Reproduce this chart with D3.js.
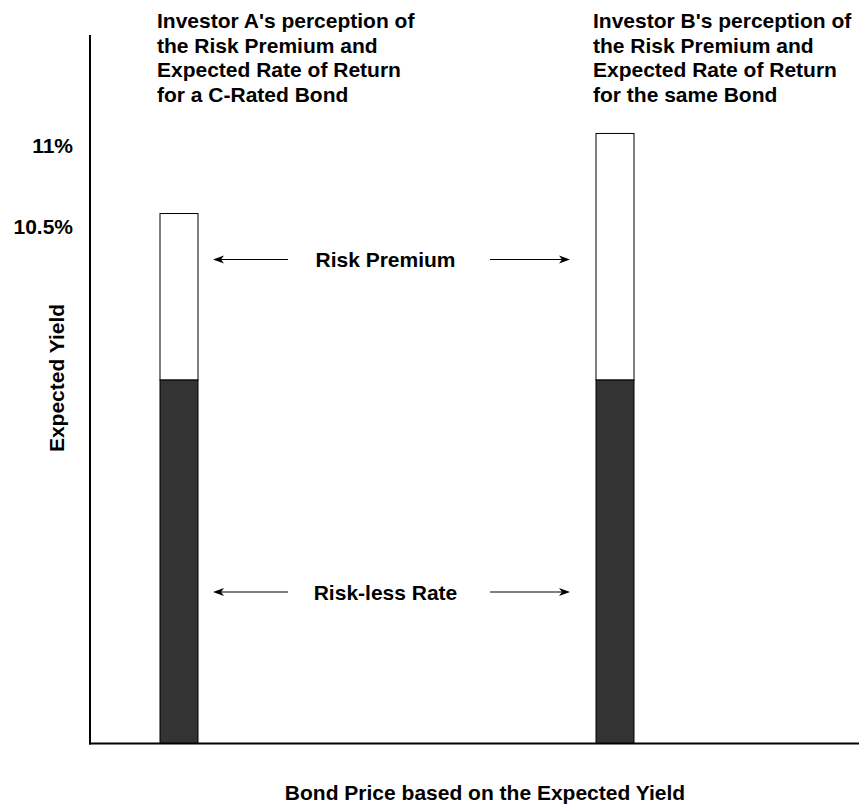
<!DOCTYPE html>
<html>
<head>
<meta charset="utf-8">
<script src="https://cdn.jsdelivr.net/npm/d3@7"></script>
<style>
  html, body { margin: 0; padding: 0; background: #fff; }
  svg text { font-family: "Liberation Sans", Arial, Helvetica, sans-serif; font-weight: bold; font-size: 21px; fill: #000; }
</style>
</head>
<body>
<svg id="chart" width="859" height="806"></svg>
<script>
// Two investors' view of the same bond: shared risk-less rate plus a risk premium
const investors = ["Investor A", "Investor B"];
const risklessRate = [9.46, 9.46];      // % yield, dark segment
const expectedYield = [10.5, 11];       // % yield, top of each bar
const tickValues = [10.5, 11];
const tickLabels = ["10.5%", "11%"];
const titles = [
  ["Investor A's perception of", "the Risk Premium and", "Expected Rate of Return", "for a C-Rated Bond"],
  ["Investor B's perception of", "the Risk Premium and", "Expected Rate of Return", "for the same Bond"]
];
const bandLabels = ["Risk Premium", "Risk-less Rate"];

const svg = d3.select("#chart");

const axisX = 90, axisBottom = 743.5, axisTop = 35, axisRight = 859;
const barWidth = 38;

const y = d3.scaleLinear().domain([7.19, 11.615]).range([axisBottom, axisTop]);
const x = d3.scalePoint().domain(investors).range([178.5, 614.5]);

// bars: dark risk-less part, white premium on top
const bars = svg.append("g");
investors.forEach((inv, i) => {
  const left = x(inv) - barWidth / 2;
  bars.append("rect")
    .attr("x", left + 0.5).attr("width", barWidth)
    .attr("y", y(expectedYield[i]))
    .attr("height", y(risklessRate[i]) - y(expectedYield[i]))
    .attr("fill", "#fff").attr("stroke", "#000").attr("stroke-width", 1);
  bars.append("rect")
    .attr("x", left + 0.5).attr("width", barWidth)
    .attr("y", y(risklessRate[i]))
    .attr("height", y.range()[0] - y(risklessRate[i]))
    .attr("fill", "#333").attr("stroke", "#000").attr("stroke-width", 1);
});

// axes
svg.append("line").attr("x1", axisX).attr("x2", axisX)
  .attr("y1", axisTop).attr("y2", axisBottom + 1)
  .attr("stroke", "#000").attr("stroke-width", 2);
svg.append("line").attr("x1", axisX - 1).attr("x2", axisRight)
  .attr("y1", axisBottom).attr("y2", axisBottom)
  .attr("stroke", "#000").attr("stroke-width", 2);

// yield labels
svg.append("g").selectAll("text").data(tickValues).join("text")
  .attr("x", 73).attr("y", d => y(d) + 20)
  .attr("text-anchor", "end")
  .text((d, i) => tickLabels[i]);

// titles above each bar
investors.forEach((inv, i) => {
  const t = svg.append("text").attr("x", x(inv) - barWidth / 2 - 2.5).attr("y", 28);
  titles[i].forEach((line, j) => {
    t.append("tspan").attr("x", x(inv) - barWidth / 2 - 2.5).attr("y", 28 + j * 24.5).text(line);
  });
});

// band annotations with arrows
const arrowRows = [259.5, 592];
const arrowGroup = svg.append("g");
function arrow(x1, x2, yy) {
  const dir = Math.sign(x2 - x1);
  arrowGroup.append("line")
    .attr("x1", x1).attr("x2", x2 - dir * 8)
    .attr("y1", yy).attr("y2", yy)
    .attr("stroke", "#000").attr("stroke-width", 1.2);
  arrowGroup.append("path")
    .attr("d", `M${x2},${yy} L${x2 - dir * 11},${yy - 4} L${x2 - dir * 8},${yy} L${x2 - dir * 11},${yy + 4} Z`)
    .attr("fill", "#000");
}
bandLabels.forEach((lab, i) => {
  const yy = arrowRows[i];
  svg.append("text").attr("x", 385.5).attr("y", yy + 7.5)
    .attr("text-anchor", "middle").text(lab);
  arrow(288, 213, yy);
  arrow(490, 570, yy);
});

// axis titles
svg.append("text").attr("x", 485).attr("y", 800)
  .attr("text-anchor", "middle").text("Bond Price based on the Expected Yield");
svg.append("text")
  .attr("transform", "translate(63.5,378) rotate(-90)")
  .attr("text-anchor", "middle").text("Expected Yield");
</script>
</body>
</html>
